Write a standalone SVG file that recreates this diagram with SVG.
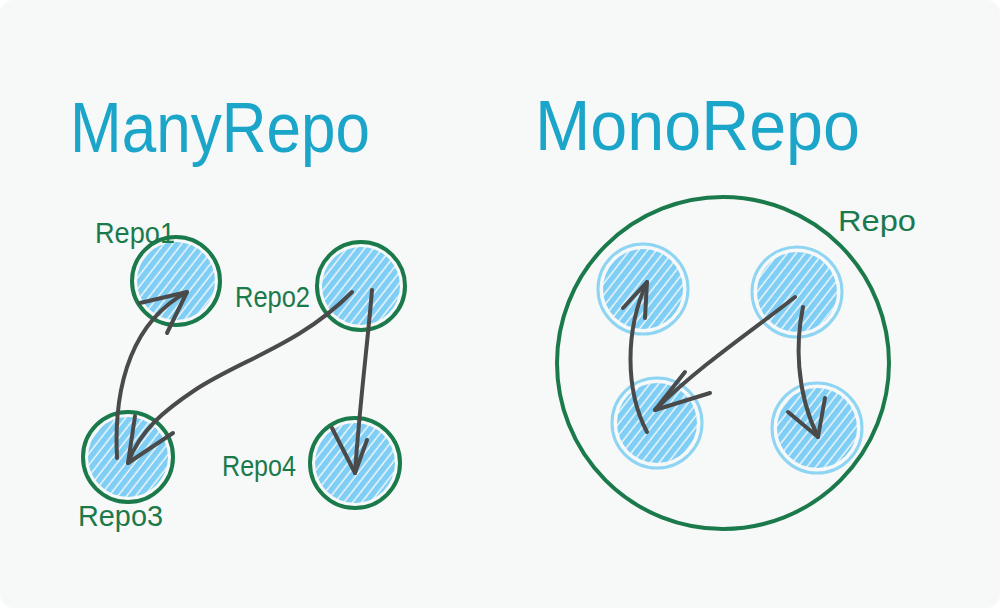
<svg xmlns="http://www.w3.org/2000/svg" width="1000" height="608" viewBox="0 0 1000 608">
<style>
.title{font-family:"Liberation Sans","DejaVu Sans",sans-serif;font-size:70px;fill:#1ba5c9}
.lbl{font-family:"Liberation Sans","DejaVu Sans",sans-serif;font-size:29px;fill:#1b7a4b}
.node{stroke:#1b7a4b;stroke-width:4;fill:none}
.inner{stroke:#8dd5f2;stroke-width:3;fill:none}
.arrow{stroke:#4a4a4a;stroke-width:4;fill:none;stroke-linecap:round;stroke-linejoin:round}
</style>
<defs>
<pattern id="hatch" width="7" height="7" patternUnits="userSpaceOnUse" patternTransform="rotate(-52)">
<rect x="0" y="0" width="7" height="5.6" fill="#7ecef5"/>
</pattern>
</defs>
<rect x="0" y="0" width="1000" height="608" fill="#ffffff"/>
<rect x="0" y="0" width="1000" height="608" rx="14" fill="#f7f8f8"/>

<g id="title-many"><text class="title" x="70" y="152" textLength="300" lengthAdjust="spacingAndGlyphs">ManyRepo</text></g>
<g id="title-mono"><text class="title" x="535" y="150" textLength="325" lengthAdjust="spacingAndGlyphs">MonoRepo</text></g>

<g id="repo1">
<circle cx="176" cy="281" r="39" fill="url(#hatch)"/>
<circle class="node" cx="176" cy="281" r="44"/>
<text class="lbl" x="95" y="243" textLength="80" lengthAdjust="spacingAndGlyphs">Repo1</text>
</g>
<g id="repo2">
<circle cx="361" cy="286" r="39" fill="url(#hatch)"/>
<circle class="node" cx="361" cy="286" r="44"/>
<text class="lbl" x="235" y="307" textLength="75" lengthAdjust="spacingAndGlyphs">Repo2</text>
</g>
<g id="repo3">
<circle cx="128" cy="457" r="40" fill="url(#hatch)"/>
<circle class="node" cx="128" cy="457" r="45"/>
<text class="lbl" x="78" y="526" textLength="85" lengthAdjust="spacingAndGlyphs">Repo3</text>
</g>
<g id="repo4">
<circle cx="355" cy="463" r="40" fill="url(#hatch)"/>
<circle class="node" cx="355" cy="463" r="45"/>
<text class="lbl" x="222" y="476" textLength="74" lengthAdjust="spacingAndGlyphs">Repo4</text>
</g>

<g id="mono-repo">
<circle class="node" cx="723" cy="363" r="166"/>
<text class="lbl" x="838" y="231" font-size="36" textLength="78" lengthAdjust="spacingAndGlyphs">Repo</text>
</g>
<g id="mono-tl">
<circle cx="643" cy="289" r="40" fill="url(#hatch)"/>
<circle class="inner" cx="643" cy="289" r="45"/>
</g>
<g id="mono-tr">
<circle cx="797" cy="292" r="40" fill="url(#hatch)"/>
<circle class="inner" cx="797" cy="292" r="45"/>
</g>
<g id="mono-bl">
<circle cx="657" cy="423" r="40" fill="url(#hatch)"/>
<circle class="inner" cx="657" cy="423" r="45"/>
</g>
<g id="mono-br">
<circle cx="817" cy="428" r="40" fill="url(#hatch)"/>
<circle class="inner" cx="817" cy="428" r="45"/>
</g>

<g id="connectors">
<path class="arrow" d="M117,458 C113,380 135,320 187,292"/>
<path class="arrow" d="M140,303 L187,292 L167,333"/>
<path class="arrow" d="M352,292 C300,345 240,360 195,390 C165,410 140,430 128,463"/>
<path class="arrow" d="M135,416 L128,463 L173,433"/>
<path class="arrow" d="M372,290 C368,340 360,400 355,473"/>
<path class="arrow" d="M332,428 L355,473 L367,440"/>
<path class="arrow" d="M647,432 C625,390 625,330 647,282"/>
<path class="arrow" d="M623,308 L647,282 L645,318"/>
<path class="arrow" d="M795,297 C760,325 700,365 655,410"/>
<path class="arrow" d="M685,372 L655,410 L710,393"/>
<path class="arrow" d="M803,307 C796,340 795,390 818,437"/>
<path class="arrow" d="M788,412 L818,437 L825,398"/>
</g>
</svg>
